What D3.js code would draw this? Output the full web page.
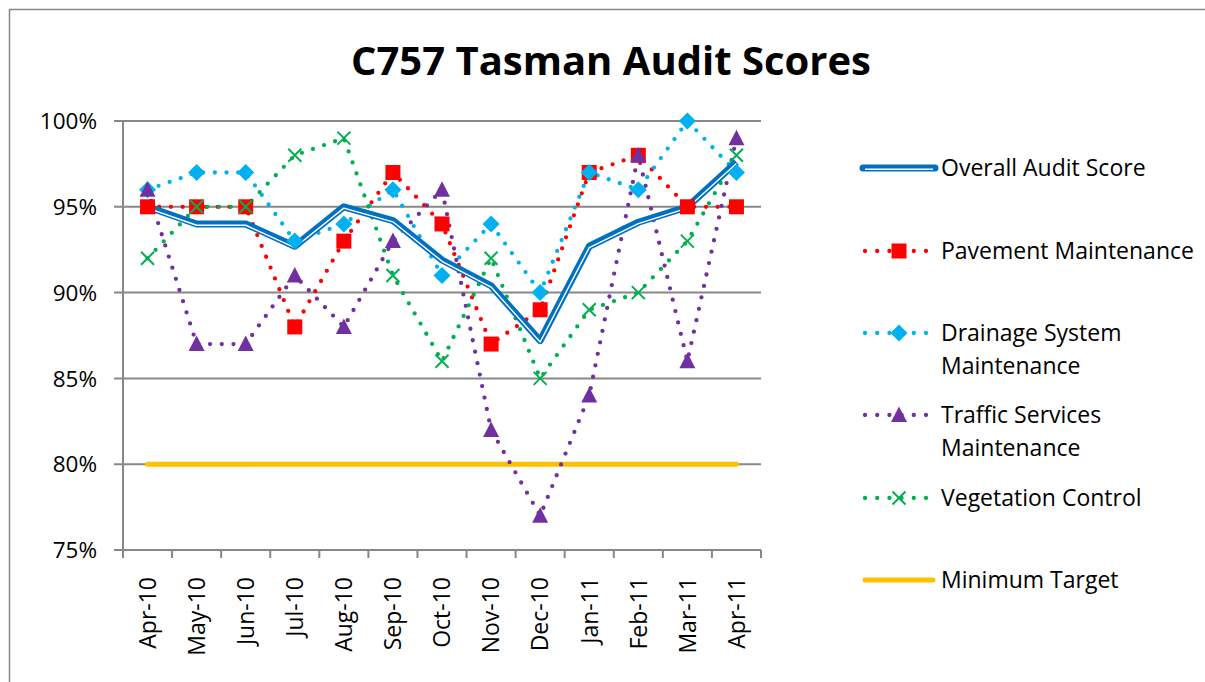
<!DOCTYPE html>
<html>
<head>
<meta charset="utf-8">
<script src="https://cdn.jsdelivr.net/npm/d3@7"></script>
<style>
  body { margin: 0; background: #fff; }
  svg { display: block; font-family: "Open Sans", "Noto Sans", sans-serif; }
</style>
</head>
<body>
<svg id="chart" width="1205" height="682"></svg>
<script>
// data
const months = ['Apr-10','May-10','Jun-10','Jul-10','Aug-10','Sep-10','Oct-10','Nov-10','Dec-10','Jan-11','Feb-11','Mar-11','Apr-11'];
const overall    = [95, 94, 94, 92.7, 95, 94.2, 91.9, 90.4, 87.2, 92.7, 94.1, 95, 97.6];
const pavement   = [95, 95, 95, 88, 93, 97, 94, 87, 89, 97, 98, 95, 95];
const drainage   = [96, 97, 97, 93, 94, 96, 91, 94, 90, 97, 96, 100, 97];
const traffic    = [96, 87, 87, 91, 88, 93, 96, 82, 77, 84, 98, 86, 99];
const vegetation = [92, 95, 95, 98, 99, 91, 86, 92, 85, 89, 90, 93, 98];
const minTarget  = [80, 80, 80, 80, 80, 80, 80, 80, 80, 80, 80, 80, 80];
const yTicks = [75, 80, 85, 90, 95, 100];

const svg = d3.select('#chart');
const plot = {left: 123, right: 761, top: 121, bottom: 550};
const grey = '#878787';

const x = d3.scaleBand().domain(months).range([plot.left, plot.right]);
const y = d3.scaleLinear().domain([75, 100]).range([plot.bottom, plot.top]);
const cx = m => x(m) + x.bandwidth() / 2;

// outer chart frame (only top and left edges are in view)
svg.append('path')
  .attr('d', 'M9.5,682 V9.5 H1205')
  .attr('fill', 'none').attr('stroke', grey).attr('stroke-width', 1.5);

// title
svg.append('text')
  .attr('x', 611).attr('y', 75)
  .attr('text-anchor', 'middle')
  .attr('font-size', 40).attr('font-weight', 'bold')
  .text('C757 Tasman Audit Scores');

// gridlines + y axis
svg.append('g').selectAll('line').data(yTicks).enter().append('line')
  .attr('x1', plot.left - 9).attr('x2', plot.right)
  .attr('y1', d => y(d)).attr('y2', d => y(d))
  .attr('stroke', grey).attr('stroke-width', 2);

svg.append('line')
  .attr('x1', plot.left).attr('x2', plot.left)
  .attr('y1', plot.top).attr('y2', plot.bottom + 8)
  .attr('stroke', grey).attr('stroke-width', 2);

svg.append('g').selectAll('text').data(yTicks).enter().append('text')
  .attr('x', 97).attr('y', d => y(d)).attr('dy', '0.36em')
  .attr('text-anchor', 'end').attr('font-size', 22.5)
  .text(d => d + '%');

// x axis tick marks sit between categories
const xEdges = months.map(m => x(m)).concat([plot.right]);
svg.append('g').selectAll('line').data(xEdges).enter().append('line')
  .attr('x1', d => d).attr('x2', d => d)
  .attr('y1', plot.bottom).attr('y2', plot.bottom + 8)
  .attr('stroke', grey).attr('stroke-width', 2);

svg.append('g').selectAll('text').data(months).enter().append('text')
  .attr('transform', d => `translate(${cx(d)}, 577) rotate(-90)`)
  .attr('dy', '0.36em')
  .attr('text-anchor', 'end').attr('font-size', 23)
  .text(d => d);

const line = d3.line().x((d, i) => cx(months[i])).y(d => y(d));

// minimum target
svg.append('path').datum(minTarget).attr('d', line)
  .attr('fill', 'none').attr('stroke', '#FFC000')
  .attr('stroke-width', 5).attr('stroke-linecap', 'round');

// dotted series with markers
const series = [
  {name: 'Pavement Maintenance', values: pavement, color: '#FF0000', marker: 'square'},
  {name: 'Drainage System Maintenance', values: drainage, color: '#00B0F0', marker: 'diamond'},
  {name: 'Traffic Services Maintenance', values: traffic, color: '#7030A0', marker: 'triangle'},
  {name: 'Vegetation Control', values: vegetation, color: '#00B050', marker: 'x'}
];

function drawMarker(g, type, color) {
  if (type === 'square') {
    g.append('rect').attr('x', -7.5).attr('y', -7.5).attr('width', 15).attr('height', 15).attr('fill', color);
  } else if (type === 'diamond') {
    g.append('path').attr('d', 'M0,-8.5 L8.5,0 L0,8.5 L-8.5,0 Z').attr('fill', color);
  } else if (type === 'triangle') {
    g.append('path').attr('d', 'M0,-8.5 L8,7 L-8,7 Z').attr('fill', color);
  } else {
    g.append('path').attr('d', 'M-6.5,-6.5 L6.5,6.5 M6.5,-6.5 L-6.5,6.5')
      .attr('stroke', color).attr('stroke-width', 2).attr('fill', 'none');
  }
}

series.forEach(s => {
  svg.append('path').datum(s.values).attr('d', line)
    .attr('fill', 'none').attr('stroke', s.color)
    .attr('stroke-width', 4.3).attr('stroke-linecap', 'round')
    .attr('stroke-dasharray', '0 11.7');
});

// overall score: thick-thin compound blue line
svg.append('path').datum(overall).attr('d', line)
  .attr('fill', 'none').attr('stroke', '#0070C0').attr('stroke-width', 7)
  .attr('stroke-linejoin', 'round');
svg.append('path').datum(overall).attr('d', line)
  .attr('transform', 'translate(0,1.3)')
  .attr('fill', 'none').attr('stroke', '#fff').attr('stroke-width', 1.4)
  .attr('stroke-linejoin', 'round');

series.forEach(s => {
  svg.append('g').selectAll('g').data(s.values).enter().append('g')
    .attr('transform', (d, i) => `translate(${cx(months[i])}, ${y(d)})`)
    .each(function() { drawMarker(d3.select(this), s.marker, s.color); });
});

// legend
const lx1 = 863, lx2 = 935, lmid = 899, tx = 941;
const legend = svg.append('g');

function legendText(rowY, lines) {
  const t = legend.append('text').attr('font-size', 23);
  lines.forEach((l, i) => {
    t.append('tspan').attr('x', tx).attr('y', rowY + i * 33).attr('dy', '0.36em').text(l);
  });
}

// overall
legend.append('line').attr('x1', lx1).attr('x2', lx2).attr('y1', 168).attr('y2', 168)
  .attr('stroke', '#0070C0').attr('stroke-width', 7).attr('stroke-linecap', 'round');
legend.append('line').attr('x1', lx1 + 2).attr('x2', lx2 - 2).attr('y1', 169.3).attr('y2', 169.3)
  .attr('stroke', '#fff').attr('stroke-width', 1.4);
legendText(168, ['Overall Audit Score']);

const legendRows = [
  {s: series[0], y: 251, lines: ['Pavement Maintenance']},
  {s: series[1], y: 333, lines: ['Drainage System', 'Maintenance']},
  {s: series[2], y: 415, lines: ['Traffic Services', 'Maintenance']},
  {s: series[3], y: 498, lines: ['Vegetation Control']}
];
legendRows.forEach(r => {
  legend.append('line').attr('x1', 865).attr('x2', lx2).attr('y1', r.y).attr('y2', r.y)
    .attr('stroke', r.s.color).attr('stroke-width', 4.3)
    .attr('stroke-linecap', 'round').attr('stroke-dasharray', '0 12.2');
  drawMarker(legend.append('g').attr('transform', `translate(${lmid}, ${r.y})`), r.s.marker, r.s.color);
  legendText(r.y, r.lines);
});

legend.append('line').attr('x1', lx1 + 2).attr('x2', lx2 - 2).attr('y1', 580).attr('y2', 580)
  .attr('stroke', '#FFC000').attr('stroke-width', 5).attr('stroke-linecap', 'round');
legendText(580, ['Minimum Target']);
</script>
</body>
</html>
